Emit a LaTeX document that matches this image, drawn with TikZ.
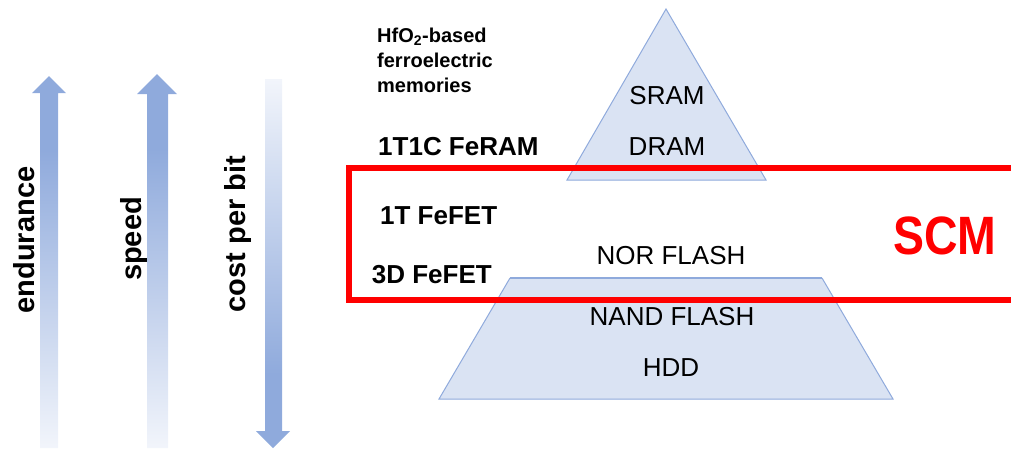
\documentclass[tikz,border=0pt]{standalone}
\usepackage{fontspec}
\setmainfont{Liberation Sans}
\definecolor{pyrfill}{HTML}{DAE3F3}
\definecolor{pyredge}{HTML}{8FAADC}
\definecolor{arrowdark}{HTML}{8FAADC}
\definecolor{arrowlight}{HTML}{F2F5FB}
\definecolor{scmred}{HTML}{FF0000}
\pgfdeclareverticalshading{fadeup}{100bp}{color(0bp)=(arrowlight); color(25bp)=(arrowlight); color(65bp)=(arrowdark); color(100bp)=(arrowdark)}
\pgfdeclareverticalshading{fadedown}{100bp}{color(0bp)=(arrowdark); color(35bp)=(arrowdark); color(75bp)=(arrowlight); color(100bp)=(arrowlight)}
\begin{document}
\begin{tikzpicture}[x=1pt, y=-1pt, every node/.style={inner sep=0pt},
    memtext/.style={font=\fontsize{26}{30}\selectfont},
    fetext/.style={font=\bfseries\fontsize{26}{30}\selectfont},
    bartext/.style={font=\bfseries\fontsize{29}{32}\selectfont, rotate=90}]
            \useasboundingbox (0,0) rectangle (1011,448);

            % Arrows on the left
            \shade[shading=fadeup] (40,448) -- (40,93) -- (32,93) -- (49,76) -- (66,93) -- (58,93) -- (58,448) -- cycle;
            \shade[shading=fadeup] (147,448) -- (147,94) -- (137,94) -- (157,74) -- (177,94) -- (168,94) -- (168,448) -- cycle;
            \shade[shading=fadedown] (265,79) -- (265,431) -- (256,431) -- (273,448) -- (290,431) -- (282,431) -- (282,79) -- cycle;

            \node (endurance) at (24,240) [bartext] {endurance};
            \node (speed) at (134,239) [bartext] {speed};
            \node (cost) at (238,234) [bartext] {cost per bit};

            % Top of the pyramid
            \draw[pyredge, fill=pyrfill, line width=1] (567,180) -- (666,9) -- (766,180) -- cycle;

            % Bottom of the pyramid
            \fill[pyrfill] (510,278) -- (822,278) -- (893,399) -- (439,399) -- cycle;
            \draw[pyredge, line width=1] (510,278) -- (439,399) -- (893,399) -- (822,278);
            \draw[pyredge, line width=2.7] (510,278) -- (822,278);

            % SCM box
            \draw[scmred, line width=6] (1011,168) -- (349,168) -- (349,300) -- (1011,300);
            \node (SCM) at (945,236) [font=\bfseries\fontsize{54}{60}\selectfont, text=scmred, xscale=0.86] {SCM};

            % Memory levels
            \node (SRAM) at (667,96) [memtext] {SRAM};
            \node (DRAM) at (667,147) [memtext] {DRAM};
            \node (NOR) at (671,256) [memtext] {NOR FLASH};
            \node (NAND) at (672,317) [memtext] {NAND FLASH};
            \node (HDD) at (671,368) [memtext] {HDD};

            % Ferroelectric memories
            \node (HfO) at (377,42) [anchor=base west, font=\bfseries\fontsize{20}{25}\selectfont] {HfO\textsubscript{2}-based};
            \node (ferro) at (377,67) [anchor=base west, font=\bfseries\fontsize{20}{25}\selectfont] {ferroelectric};
            \node (mem) at (377,92) [anchor=base west, font=\bfseries\fontsize{20}{25}\selectfont] {memories};
            \node (FeRAM) at (378,147) [fetext, anchor=west] {1T1C FeRAM};
            \node (FeFET) at (380,216) [fetext, anchor=west] {1T FeFET};
            \node (DFeFET) at (492,275) [fetext, anchor=east] {3D FeFET};

        \end{tikzpicture}
\end{document}
